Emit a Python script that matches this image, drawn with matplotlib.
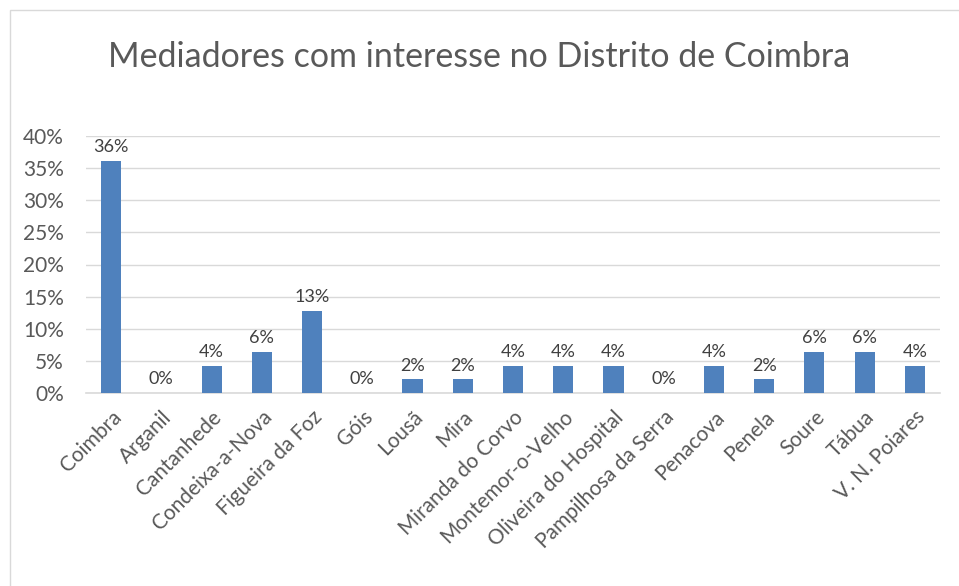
import matplotlib.pyplot as plt
from matplotlib.patches import Rectangle

# Mediadores por concelho (n = 47)
concelhos = ['Coimbra', 'Arganil', 'Cantanhede', 'Condeixa-a-Nova', 'Figueira da Foz',
             'Góis', 'Lousã', 'Mira', 'Miranda do Corvo', 'Montemor-o-Velho',
             'Oliveira do Hospital', 'Pampilhosa da Serra', 'Penacova', 'Penela',
             'Soure', 'Tábua', 'V. N. Poiares']
contagens = [17, 0, 2, 3, 6, 0, 1, 1, 2, 2, 2, 0, 2, 1, 3, 3, 2]
total = sum(contagens)
percentagens = [c / total * 100 for c in contagens]

plt.rcParams['font.family'] = ['Lato', 'DejaVu Sans']
texto = '#595959'

fig = plt.figure(figsize=(9.59, 5.86), dpi=100)
ax = fig.add_axes([86 / 959, 1 - 393 / 586, (940 - 86) / 959, (393 - 136) / 586])

x = range(len(concelhos))
barras = ax.bar(x, percentagens, width=0.4, color='#4F81BD', zorder=3)
for b, p in zip(barras, percentagens):
    ax.text(b.get_x() + b.get_width() / 2, b.get_height() + 0.9, f'{p:.0f}%',
            ha='center', va='bottom', fontsize=13, color='#404040')

ax.set_xlim(-0.5, len(concelhos) - 0.5)
ax.set_ylim(0, 40)
ax.set_yticks(range(0, 41, 5))
ax.set_yticklabels([f'{v}%' for v in range(0, 41, 5)], fontsize=15, color=texto)
ax.set_xticks(list(x))
ax.set_xticklabels(concelhos, rotation=45, ha='right', rotation_mode='anchor',
                   fontsize=15, color=texto)
ax.tick_params(axis='y', length=0, pad=16)
ax.tick_params(axis='x', length=0, pad=10)
ax.grid(axis='y', color='#D9D9D9', linewidth=1, zorder=0)
for s in ['top', 'right', 'left']:
    ax.spines[s].set_visible(False)
ax.spines['bottom'].set_color('#D9D9D9')
ax.spines['bottom'].set_linewidth(1.2)

fig.text(0.5, 1 - 57 / 586, 'Mediadores com interesse no Distrito de Coimbra',
         ha='center', va='center', fontsize=24.5, color=texto)

fig.patches.append(Rectangle((10 / 959, -0.01), 1, 1 - 10 / 586 + 0.01, transform=fig.transFigure,
                             fill=False, edgecolor='#D9D9D9', linewidth=1))

fig.savefig('out.png', dpi=100)
